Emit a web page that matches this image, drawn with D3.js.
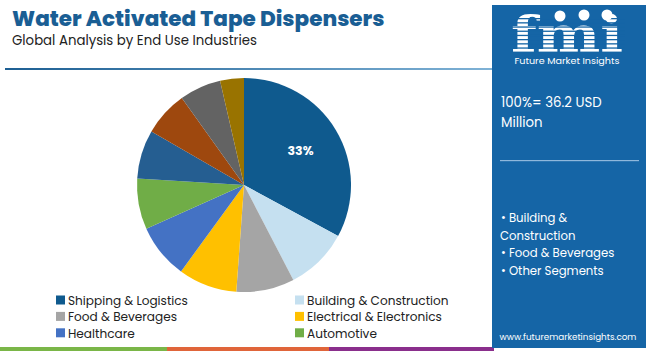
<!DOCTYPE html>
<html><head><meta charset="utf-8">
<script src="https://cdn.jsdelivr.net/npm/d3@7"></script>
<style>
body{margin:0;background:#fff;}
svg{display:block;font-family:Poppins,"Open Sans","Noto Sans",sans-serif;}
</style></head><body>
<svg id="c" width="650" height="351"></svg>
<script>
const categories = ["Shipping & Logistics","Building & Construction","Food & Beverages","Electrical & Electronics","Healthcare","Automotive","Segment 7","Segment 8","Segment 9","Segment 10"];
const values = [33, 9.5, 8.8, 8.9, 8.3, 7.7, 7.4, 6.8, 6.3, 3.6];
const colors = ["#0f5a8e","#c5e0f0","#a5a5a5","#ffc000","#4472c4","#70ad47","#255e91","#9e480e","#636363","#997300"];
const legendCount = 6;
const panelBullets = ["• Building &","Construction","• Food & Beverages","• Other Segments"];

const svg = d3.select("#c");

// title
svg.append("text").attr("x",12).attr("y",26).text("Water Activated Tape Dispensers")
  .attr("font-size",21.5).attr("font-weight",800).attr("fill","#1a5e94");
svg.append("text").attr("x",12).attr("y",45).text("Global Analysis by End Use Industries")
  .attr("font-size",13.3).attr("fill","#222");

// header rule
const grad = svg.append("defs").append("linearGradient").attr("id","rule");
grad.append("stop").attr("offset","0").attr("stop-color","#1d5f93");
grad.append("stop").attr("offset","1").attr("stop-color","#7fb2d6");
svg.append("rect").attr("x",5).attr("y",68).attr("width",487).attr("height",2).attr("fill","url(#rule)");

// pie
const cx=244, cy=185, r=107;
const pie = d3.pie().sort(null).value(d=>d)(values);
const arc = d3.arc().innerRadius(0).outerRadius(r);
const g = svg.append("g").attr("transform",`translate(${cx},${cy})`);
g.selectAll("path").data(pie).join("path").attr("d",arc).attr("fill",(d,i)=>colors[i]);
const lab = d3.arc().innerRadius(r*0.55).outerRadius(r*0.55);
const c0 = lab.centroid(pie[0]);
g.append("text").attr("x",c0[0]+6).attr("y",c0[1]-3).attr("text-anchor","middle").attr("dominant-baseline","middle")
  .attr("font-size",12.5).attr("font-weight",700).attr("fill","#fff").text(d3.format(".0f")(values[0])+"%");

// legend
const lg = svg.append("g");
categories.slice(0,legendCount).forEach((c,i)=>{
  const col=i%2, row=Math.floor(i/2);
  const x = col===0?56:295, y = 300+row*16.4;
  lg.append("rect").attr("x",x).attr("y",y-4.5).attr("width",9).attr("height",9).attr("fill",colors[i]);
  lg.append("text").attr("x",x+12).attr("y",y+0.5).attr("dominant-baseline","central").attr("font-size",12.1).attr("fill","#222").text(c);
});

// bottom stripes
svg.append("rect").attr("x",0).attr("y",347).attr("width",167).attr("height",4).attr("fill","#7ab648");
svg.append("rect").attr("x",167).attr("y",347).attr("width",162).attr("height",4).attr("fill","#e0653a");
svg.append("rect").attr("x",329).attr("y",347).attr("width",165).attr("height",4).attr("fill","#8a2f8c");

// right panel
svg.append("rect").attr("x",492).attr("y",5).attr("width",154).attr("height",343).attr("fill","#1565a6");
// logo
const lgo = svg.append("g");
lgo.append("text").attr("x",0).attr("y",0).attr("text-anchor","middle").attr("font-family","DejaVu Serif,serif")
  .attr("font-weight",700).attr("font-size",50).attr("fill","#fff")
  .attr("transform","translate(567,52) scale(1.2,1)").text("fmi");
for(let k=0;k<9;k++){
  lgo.append("rect").attr("x",510).attr("y",18+k*4.2).attr("width",115).attr("height",1.3).attr("fill","#1565a6");
}
[[560,16],[584,15],[607,15]].forEach(p=>lgo.append("circle").attr("cx",p[0]).attr("cy",p[1]).attr("r",5.5).attr("fill","#fff"));
lgo.append("text").attr("x",567).attr("y",64).attr("text-anchor","middle").attr("font-size",9.6).attr("fill","#fff").text("Future Market Insights");

svg.append("text").attr("x",501).attr("y",107).attr("font-size",13.3).attr("fill","#fff").text("100%= 36.2 USD");
svg.append("text").attr("x",501).attr("y",127).attr("font-size",13.3).attr("fill","#fff").text("Million");
svg.append("rect").attr("x",500).attr("y",160).attr("width",139).attr("height",1.2).attr("fill","#8fb8dc");
panelBullets.forEach((t,i)=>{
  svg.append("text").attr("x",i===1?500:501).attr("y",222+i*17.5).attr("font-size",11.7).attr("fill","#fff").text(t);
});
svg.append("text").attr("x",568).attr("y",340).attr("text-anchor","middle").attr("font-size",8.8).attr("fill","#fff").text("www.futuremarketinsights.com");
</script></body></html>
